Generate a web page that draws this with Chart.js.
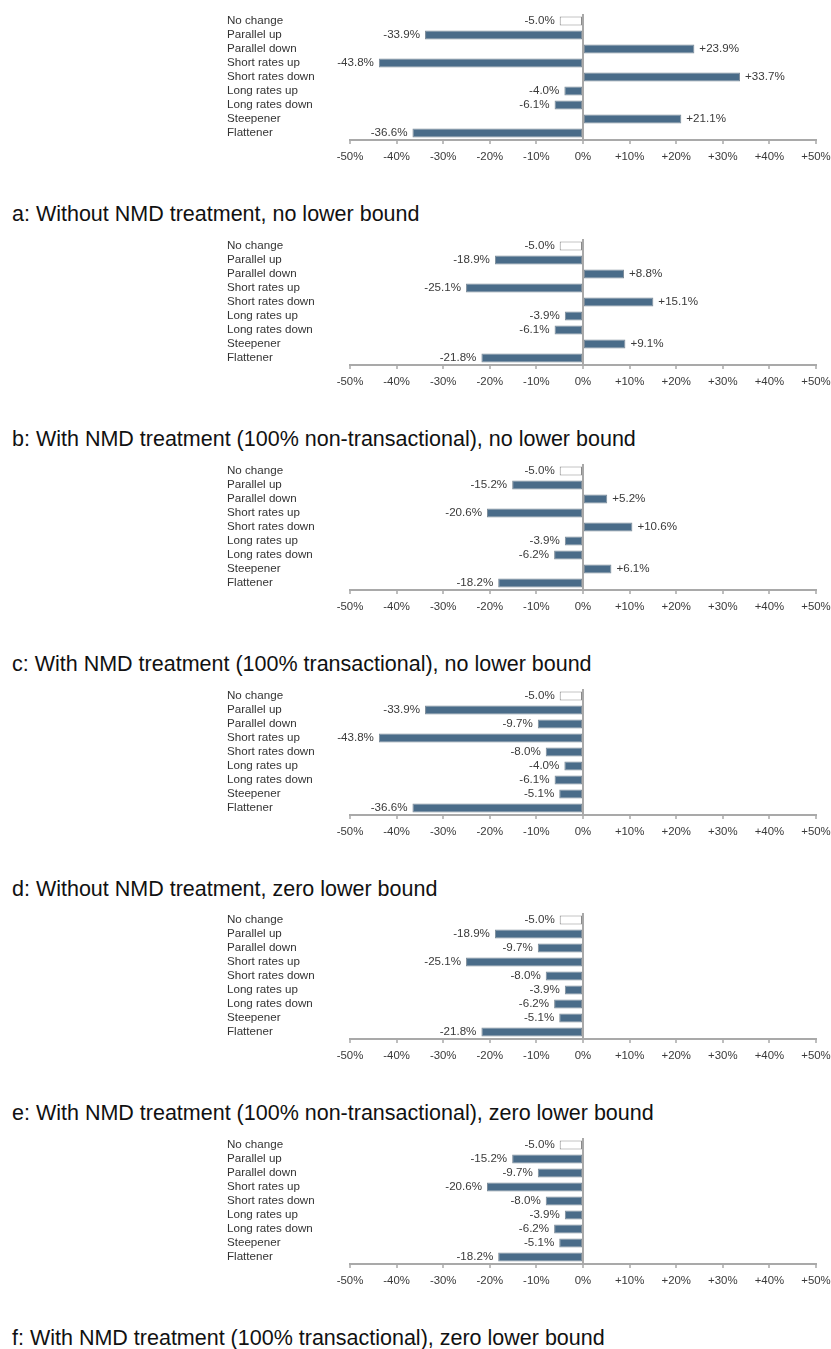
<!DOCTYPE html>
<html>
<head>
<meta charset="utf-8">
<script src="https://cdn.jsdelivr.net/npm/chart.js@4.4.0/dist/chart.umd.min.js"></script>
<style>
  html, body { margin: 0; padding: 0; background: #ffffff; }
  #wrap { position: relative; width: 831px; height: 1349px; overflow: hidden; }
  .panel { position: absolute; left: 0; width: 831px; height: 225px; }
  .panel canvas { position: absolute; left: 0; top: 0; display: block; }
  .ttl { position: absolute; left: 12px; top: 202px; font-family: "Liberation Sans", Arial, sans-serif;
         font-size: 21.5px; line-height: 25px; color: #111111; white-space: nowrap; }
</style>
</head>
<body>
<div id="wrap"></div>
<script>
const categories = ['No change', 'Parallel up', 'Parallel down', 'Short rates up', 'Short rates down',
                    'Long rates up', 'Long rates down', 'Steepener', 'Flattener'];
const valuesA = [-5.0, -33.9, 23.9, -43.8, 33.7, -4.0, -6.1, 21.1, -36.6];
const valuesB = [-5.0, -18.9, 8.8, -25.1, 15.1, -3.9, -6.1, 9.1, -21.8];
const valuesC = [-5.0, -15.2, 5.2, -20.6, 10.6, -3.9, -6.2, 6.1, -18.2];
const valuesD = [-5.0, -33.9, -9.7, -43.8, -8.0, -4.0, -6.1, -5.1, -36.6];
const valuesE = [-5.0, -18.9, -9.7, -25.1, -8.0, -3.9, -6.2, -5.1, -21.8];
const valuesF = [-5.0, -15.2, -9.7, -20.6, -8.0, -3.9, -6.2, -5.1, -18.2];
const xTicks = [-50, -40, -30, -20, -10, 0, 10, 20, 30, 40, 50];
const titles = [
  'a: Without NMD treatment, no lower bound',
  'b: With NMD treatment (100% non-transactional), no lower bound',
  'c: With NMD treatment (100% transactional), no lower bound',
  'd: Without NMD treatment, zero lower bound',
  'e: With NMD treatment (100% non-transactional), zero lower bound',
  'f: With NMD treatment (100% transactional), zero lower bound'
];
const panelValues = [valuesA, valuesB, valuesC, valuesD, valuesE, valuesF];

const FONT = '"Liberation Sans", Arial, sans-serif';
const SMALL = 11.6;
const BAR = '#4a6c89';
const AXIS = '#a9a9a9';

const fmt = v => (v > 0 ? '+' : '') + v.toFixed(1) + '%';

const valueLabels = {
  id: 'valueLabels',
  afterDatasetsDraw(chart) {
    const ctx = chart.ctx;
    const meta = chart.getDatasetMeta(0);
    const data = chart.data.datasets[0].data;
    ctx.save();
    ctx.font = SMALL + 'px ' + FONT;
    ctx.fillStyle = '#3a3a3a';
    ctx.textBaseline = 'middle';
    meta.data.forEach((bar, i) => {
      const v = data[i];
      if (v < 0) {
        ctx.textAlign = 'right';
        ctx.fillText(fmt(v), bar.x - 5, bar.y);
      } else {
        ctx.textAlign = 'left';
        ctx.fillText(fmt(v), bar.x + 5, bar.y);
      }
    });
    ctx.restore();
  }
};

const wrap = document.getElementById('wrap');
panelValues.forEach((vals, p) => {
  const panel = document.createElement('div');
  panel.className = 'panel';
  panel.style.top = Math.round(p * 1349 / 6) + 'px';
  const cv = document.createElement('canvas');
  cv.width = 831; cv.height = 175;
  cv.style.width = '831px'; cv.style.height = '175px';
  panel.appendChild(cv);
  const t = document.createElement('div');
  t.className = 'ttl';
  t.textContent = titles[p];
  panel.appendChild(t);
  wrap.appendChild(panel);

  new Chart(cv.getContext('2d'), {
    type: 'bar',
    data: {
      labels: categories,
      datasets: [{
        data: vals,
        backgroundColor: vals.map((v, i) => i === 0 ? '#ffffff' : BAR),
        borderColor: vals.map((v, i) => i === 0 ? '#8a8a8a' : '#7d8c99'),
        borderWidth: 1,
        borderSkipped: false,
        categoryPercentage: 1.0,
        barPercentage: 0.64
      }]
    },
    options: {
      indexAxis: 'y',
      responsive: false,
      animation: false,
      devicePixelRatio: 1,
      layout: { padding: { left: 227, right: 15, top: 14, bottom: 0 } },
      plugins: { legend: { display: false }, tooltip: { enabled: false }, title: { display: false } },
      scales: {
        x: {
          type: 'linear',
          min: -50, max: 50,
          afterBuildTicks: s => { s.ticks = xTicks.map(v => ({ value: v })); },
          afterFit: s => { s.height = 35; s.paddingLeft = 0; s.paddingRight = 0; },
          grid: {
            display: true,
            drawOnChartArea: true,
            drawTicks: true,
            tickLength: 4,
            lineWidth: 2,
            color: c => (c.tick && c.tick.value === 0) ? AXIS : 'rgba(0,0,0,0)',
            tickColor: AXIS,
            tickWidth: 1.5
          },
          border: { display: true, color: AXIS, width: 2 },
          ticks: {
            padding: 6,
            color: '#3a3a3a',
            font: { family: FONT, size: 11.4 },
            maxRotation: 0,
            autoSkip: false,
            callback: v => (v > 0 ? '+' : '') + v + '%'
          }
        },
        y: {
          type: 'category',
          afterFit: s => { s.width = 350 - 227; },
          grid: { display: false },
          border: { display: false },
          ticks: {
            crossAlign: 'far',
            padding: 0,
            color: '#333333',
            autoSkip: false,
            font: { family: FONT, size: SMALL }
          }
        }
      }
    },
    plugins: [valueLabels]
  });
});
</script>
</body>
</html>
